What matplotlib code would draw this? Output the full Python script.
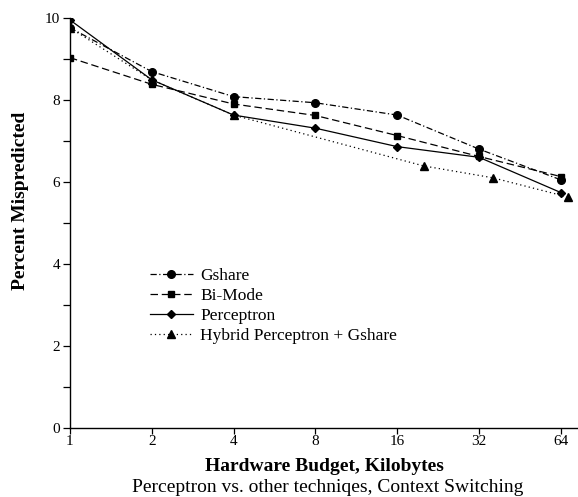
import matplotlib
matplotlib.use("Agg")
import matplotlib.pyplot as plt
from matplotlib.ticker import FixedLocator, NullLocator, FixedFormatter

plt.rcParams['font.family'] = ['Liberation Serif', 'DejaVu Serif']

budgets = [1, 2, 4, 8, 16, 32, 64]
hybrid_budgets = [1, 2, 4, 20, 36, 68]
gshare = [9.76, 8.69, 8.08, 7.93, 7.63, 6.80, 6.05]
bimode = [9.03, 8.38, 7.90, 7.62, 7.13, 6.62, 6.13]
perceptron = [9.95, 8.49, 7.63, 7.31, 6.86, 6.60, 5.74]
hybrid = [9.76, 8.49, 7.63, 6.39, 6.10, 5.63]
tick_labels = ['1', '2', '4', '8', '16', '32', '64']

fig = plt.figure(figsize=(5.78, 4.97), dpi=100)
ax = fig.add_axes([0.121, 0.139, 0.879, 0.825])

lw = 0.9
ax.plot(budgets, gshare, color='black', lw=lw, dashes=(5, 2, 1, 2),
        marker='o', ms=5.5, label='Gshare')
ax.plot(budgets, bimode, color='black', lw=lw, dashes=(6, 3),
        marker='s', ms=5, label='Bi-Mode')
ax.plot(budgets, perceptron, color='black', lw=lw, ls='-',
        marker='D', ms=3.8, label='Perceptron')
ax.plot(hybrid_budgets, hybrid, color='black', lw=lw, dashes=(1, 2.5),
        marker='^', ms=5.5, label='Hybrid Perceptron + Gshare')

ax.set_xscale('log', base=2)
ax.set_xlim(1, 74)
ax.set_ylim(0, 10)
ax.xaxis.set_major_locator(FixedLocator(budgets))
ax.xaxis.set_major_formatter(FixedFormatter(tick_labels))
ax.xaxis.set_minor_locator(NullLocator())
ax.set_yticks([0, 2, 4, 6, 8, 10])
ax.set_yticks([1, 3, 5, 7, 9], minor=True)

for s in ['top', 'right']:
    ax.spines[s].set_visible(False)
for s in ['left', 'bottom']:
    ax.spines[s].set_linewidth(1.0)

ax.tick_params(axis='both', which='major', labelsize=11, length=5, width=0.9, pad=2)
ax.tick_params(axis='y', which='minor', length=5, width=0.9)
ax.tick_params(axis='x', which='major', length=4, pad=1)

ax.set_xlabel('Hardware Budget, Kilobytes', fontsize=14, fontweight='bold', labelpad=7)
ax.set_ylabel('Percent Mispredicted', fontsize=14, fontweight='bold')
ax.yaxis.set_label_coords(-0.08, 0.554)

leg = ax.legend(loc='upper left', bbox_to_anchor=(0.157, 0.39), frameon=False,
                fontsize=12.5, handlelength=2.5, handletextpad=0.4,
                labelspacing=0.22, borderaxespad=0, borderpad=0)

fig.text(0.567, 0.02, 'Perceptron vs. other techniqes, Context Switching',
         ha='center', va='center', fontsize=14)

fig.savefig('out.png', dpi=100)
